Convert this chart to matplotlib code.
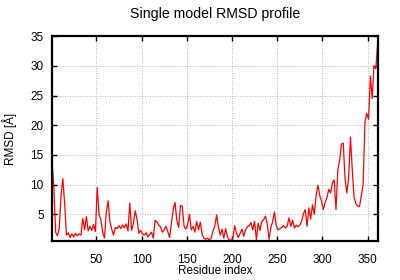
import matplotlib
matplotlib.use("Agg")
import matplotlib.pyplot as plt

# RMSD per residue (every second residue)
residues = list(range(1, 362, 2))
rmsd = [
    14.0, 9.8, 2.0, 1.4, 2.6, 8.2, 11.0, 6.8, 1.5, 1.9,
    1.1, 1.7, 1.2, 1.8, 1.4, 1.7, 1.5, 4.3, 2.4, 4.6,
    2.2, 3.0, 2.3, 3.3, 2.1, 9.5, 5.0, 4.1, 2.0, 1.0,
    5.2, 7.3, 3.8, 2.5, 1.5, 2.8, 2.6, 3.1, 2.6, 3.2,
    2.7, 3.4, 2.2, 6.9, 2.3, 3.5, 5.6, 4.2, 1.8, 2.3,
    1.7, 1.5, 1.9, 1.2, 1.6, 2.0, 1.0, 4.0, 3.7, 3.2,
    2.9, 2.0, 2.4, 3.0, 2.1, 1.1, 3.5, 5.8, 7.0, 4.0,
    2.8, 6.5, 6.4, 3.0, 2.5, 3.3, 5.0, 2.4, 3.0, 2.0,
    3.8, 2.4, 3.7, 1.6, 1.0, 0.8, 1.0, 0.7, 1.0, 2.2,
    3.0, 4.9, 2.9, 1.5, 2.5, 1.0, 2.6, 1.2, 0.7, 0.6,
    1.0, 3.1, 1.8, 1.1, 1.8, 2.5, 1.3, 2.4, 2.9, 3.1,
    3.6, 2.4, 3.8, 0.7, 3.5, 2.3, 3.8, 4.1, 4.7, 3.4,
    0.8, 2.8, 3.8, 5.4, 3.0, 2.4, 2.6, 2.8, 3.1, 2.7,
    3.0, 4.4, 3.0, 4.0, 2.7, 3.2, 2.9, 3.2, 3.8, 5.1,
    5.8, 3.0, 6.1, 4.2, 6.6, 5.0, 8.1, 9.9, 8.2, 7.2,
    5.8, 7.0, 7.8, 9.2, 8.6, 10.3, 10.8, 5.8, 12.5, 14.0,
    16.8, 17.0, 11.0, 8.6, 11.2, 18.0, 12.5, 7.8, 6.8, 6.4,
    6.3, 8.1, 10.0, 20.5, 22.0, 21.0, 28.3, 24.5, 30.0, 29.5,
    33.6,
]
xticks = [50, 100, 150, 200, 250, 300, 350]
yticks = [5, 10, 15, 20, 25, 30, 35]

plt.rcParams['font.family'] = ['Liberation Sans', 'DejaVu Sans']
plt.rcParams['font.size'] = 8.5

fig, ax = plt.subplots(figsize=(4, 2.8), dpi=100)
fig.subplots_adjust(left=0.13, right=0.944, top=0.871, bottom=0.139)

ax.plot(residues, rmsd, color='red', linewidth=0.9)

ax.set_xlim(1, 361)
ax.set_ylim(0.5, 35)
ax.set_xticks(xticks)
ax.set_yticks(yticks)
ax.grid(True, color='#a0a0a0', linestyle=(0, (1, 2)), linewidth=0.6)

ax.tick_params(direction='in', length=3.5, width=1, top=True, right=True,
               labeltop=False, labelright=False)
ax.tick_params(axis='x', pad=9)
ax.tick_params(axis='y', pad=6)
for s in ax.spines.values():
    s.set_linewidth(1.6)

ax.set_title('Single model RMSD profile', pad=13)
ax.set_xlabel('Residue index')
ax.set_ylabel('RMSD [Å]')
ax.xaxis.set_label_coords(0.5, -0.145)
ax.xaxis.label.set_va('center')
ax.yaxis.set_label_coords(-0.129, 0.5)
ax.yaxis.label.set_va('center')

fig.savefig('out.png', dpi=100)
